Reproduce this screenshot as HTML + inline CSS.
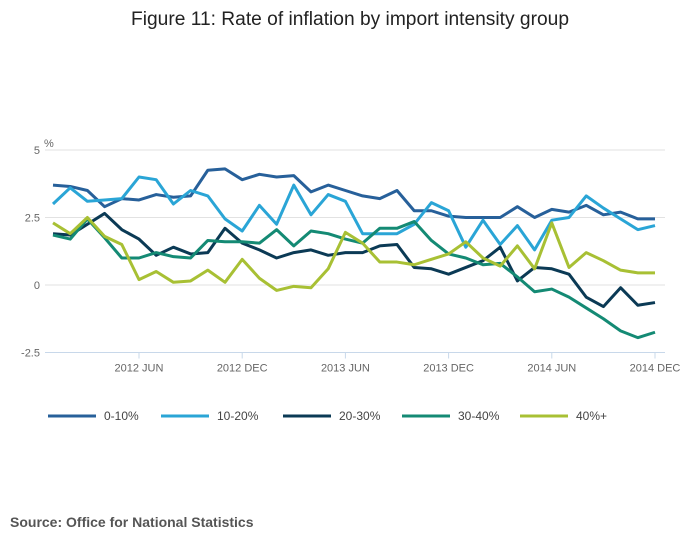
<!DOCTYPE html>
<html><head><meta charset="utf-8"><style>
body{margin:0;background:#fff;font-family:"Liberation Sans",sans-serif;}
svg text{font-family:"Liberation Sans",sans-serif;}
</style></head><body>
<svg id="chart" width="700" height="549" xmlns="http://www.w3.org/2000/svg">
<text x="350" y="25" text-anchor="middle" font-size="19" fill="#222" textLength="438" lengthAdjust="spacingAndGlyphs">Figure 11: Rate of inflation by import intensity group</text>
<text x="44" y="147" font-size="11" fill="#666">%</text>
<g id="grid"></g><g id="series"></g><g id="legend"></g>
<text x="10" y="527" font-size="14" font-weight="bold" fill="#555">Source: Office for National Statistics</text>
</svg>
<script>
const yTicks=[5,2.5,0,-2.5];
const yTickLabels=["5","2.5","0","-2.5"];
const xTickMonths=[5,11,17,23,29,35];
const xTickLabels=["2012 JUN","2012 DEC","2013 JUN","2013 DEC","2014 JUN","2014 DEC"];
const seriesNames=["0-10%","10-20%","20-30%","30-40%","40%+"];
const s0=[3.7,3.65,3.5,2.9,3.2,3.15,3.35,3.25,3.3,4.25,4.3,3.9,4.1,4.0,4.05,3.45,3.7,3.5,3.3,3.2,3.5,2.75,2.75,2.55,2.5,2.5,2.5,2.9,2.5,2.8,2.7,2.95,2.6,2.7,2.45,2.45];
const s1=[3.0,3.6,3.1,3.15,3.2,4.0,3.9,3.0,3.5,3.3,2.45,2.0,2.95,2.25,3.7,2.6,3.35,3.1,1.9,1.9,1.9,2.25,3.05,2.75,1.4,2.4,1.5,2.2,1.3,2.4,2.5,3.3,2.85,2.45,2.05,2.2];
const s2=[1.9,1.85,2.25,2.65,2.05,1.7,1.1,1.4,1.15,1.2,2.1,1.55,1.3,1.0,1.2,1.3,1.1,1.2,1.2,1.45,1.5,0.65,0.6,0.4,0.65,0.9,1.4,0.15,0.65,0.6,0.4,-0.45,-0.8,-0.1,-0.75,-0.65];
const s3=[1.85,1.7,2.45,1.75,1.0,1.0,1.2,1.05,1.0,1.65,1.6,1.6,1.55,2.05,1.45,2.0,1.9,1.7,1.55,2.1,2.1,2.35,1.65,1.15,1.0,0.75,0.8,0.3,-0.25,-0.15,-0.45,-0.85,-1.25,-1.7,-1.95,-1.75];
const s4=[2.3,1.9,2.5,1.8,1.5,0.2,0.5,0.1,0.15,0.55,0.1,0.95,0.25,-0.2,-0.05,-0.1,0.6,1.95,1.55,0.85,0.85,0.75,0.95,1.15,1.6,1.0,0.7,1.45,0.6,2.3,0.65,1.2,0.9,0.55,0.45,0.45];
const allSeries=[s0,s1,s2,s3,s4];
const colors=["#27609a","#2aa5d6","#0b3a55","#148a74","#a8c034"];
const NS="http://www.w3.org/2000/svg";
const X=m=>53+m*17.2;
const Y=v=>285-v*27;
function mk(t,a,p){const e=document.createElementNS(NS,t);for(const k in a)e.setAttribute(k,a[k]);p.appendChild(e);return e;}
const grid=document.getElementById('grid');
yTicks.forEach((v,i)=>{
 const l=mk('line',{x1:45,x2:665,y1:Y(v),y2:Y(v),stroke:v===-2.5?'#c8d8ea':'#e2e2e2','stroke-width':1},grid);
 
 
 const t=mk('text',{x:40,y:Y(v)+4,'text-anchor':'end','font-size':11,fill:'#666'},grid);
 t.textContent=yTickLabels[i];
 
 
});
xTickMonths.forEach((m,i)=>{
 const l=mk('line',{x1:X(m),x2:X(m),y1:Y(-2.5),y2:Y(-2.5)+6,stroke:'#c8d8ea'},grid);
 
 
 const t=mk('text',{x:X(m),y:Y(-2.5)+19,'text-anchor':'middle','font-size':11,fill:'#666'},grid);
 t.textContent=xTickLabels[i];
 
 
});
const sg=document.getElementById('series');
allSeries.forEach((s,i)=>{
 const p=mk('polyline',{points:s.map((v,m)=>X(m)+','+Y(v)).join(' '),fill:'none',stroke:colors[i],'stroke-width':3,'stroke-linejoin':'round'},sg);
 
 
});
const lg=document.getElementById('legend');
const lx=[48,161,283,402,520];
seriesNames.forEach((n,i)=>{
 const g=mk('g',{},lg);
 
 
 mk('line',{x1:lx[i],x2:lx[i]+48,y1:416,y2:416,stroke:colors[i],'stroke-width':3},g);
 const t=mk('text',{x:lx[i]+56,y:420,'font-size':12,fill:'#444'},g);
 t.textContent=n;
});
</script>
</body></html>
